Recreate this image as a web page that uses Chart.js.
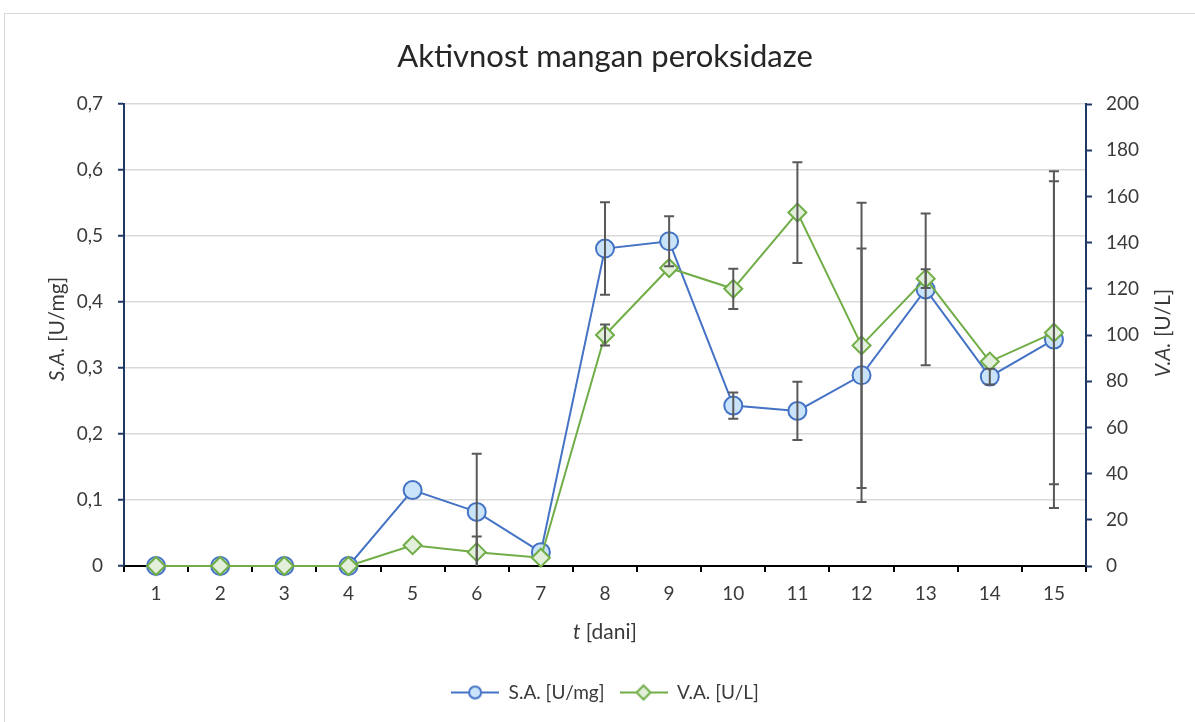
<!DOCTYPE html>
<html><head><meta charset="utf-8">
<script src="https://cdn.jsdelivr.net/npm/chart.js@4.4.0/dist/chart.umd.min.js"></script>
<style>
html,body{margin:0;padding:0;background:#fff;overflow:hidden;width:1195px;height:722px;}
#frame{position:absolute;left:4px;top:13px;width:1300px;height:800px;border:1px solid #d9d9d9;}
#wrap{position:absolute;left:0;top:0;width:1195px;height:722px;}
</style></head><body>
<div id="frame"></div>
<div id="wrap"><canvas id="c" width="1195" height="722"></canvas></div>
<script>
// ---- data ----
const days = ['1','2','3','4','5','6','7','8','9','10','11','12','13','14','15'];
const saValues = [0, 0, 0, 0, 0.115, 0.082, 0.021, 0.481, 0.492, 0.243, 0.235, 0.289, 0.419, 0.287, 0.343];
const saErrors = [0, 0, 0, 0, 0, 0.088, 0, 0.070, 0.038, 0.020, 0.044, 0.192, 0.115, 0.012, 0.255];
const vaValues = [0, 0, 0, 0, 9, 6, 3.6, 100, 129, 120, 153, 95.5, 124.4, 88.5, 101];
const vaErrors = [0, 0, 0, 0, 0, 6.8, 0, 4.5, 0, 8.7, 21.8, 61.7, 4.1, 0, 65.6];
const titleText = 'Aktivnost mangan peroksidaze';
const saLabel = 'S.A. [U/mg]';
const vaLabel = 'V.A. [U/L]';

const FONT = 'Lato';
const TEXT = '#3a3a3a';
const NAVY = '#203864';
const SA_LINE = '#4472c4', SA_FILL = '#c9e3fa';
const VA_LINE = '#70ad47', VA_FILL = '#e2efda';

function legendIcon(kind) {
  const c = document.createElement('canvas');
  c.width = 48; c.height = 20;
  const g = c.getContext('2d');
  g.strokeStyle = kind === 'sa' ? SA_LINE : VA_LINE;
  g.lineWidth = 2;
  g.beginPath(); g.moveTo(0, 10); g.lineTo(48, 10); g.stroke();
  g.fillStyle = kind === 'sa' ? SA_FILL : VA_FILL;
  g.beginPath();
  if (kind === 'sa') { g.arc(24, 10, 6, 0, Math.PI * 2); }
  else { g.moveTo(24, 3); g.lineTo(31, 10); g.lineTo(24, 17); g.lineTo(17, 10); g.closePath(); }
  g.fill(); g.stroke();
  return c;
}
const icons = [legendIcon('sa'), legendIcon('va')];

const errorBars = {
  id: 'errorBars',
  afterDatasetsDraw(chart) {
    const ctx = chart.ctx, area = chart.chartArea;
    ctx.save();
    ctx.beginPath(); ctx.rect(area.left, area.top - 2, area.right - area.left, area.bottom - area.top + 2); ctx.clip();
    ctx.strokeStyle = '#595959'; ctx.lineWidth = 2;
    chart.data.datasets.forEach((ds, i) => {
      const meta = chart.getDatasetMeta(i);
      const ys = chart.scales[ds.yAxisID];
      ds.errors.forEach((e, j) => {
        if (!e) return;
        const x = meta.data[j].x;
        const y1 = ys.getPixelForValue(ds.data[j] + e);
        const y2 = ys.getPixelForValue(ds.data[j] - e);
        ctx.beginPath();
        ctx.moveTo(x, y1); ctx.lineTo(x, y2);
        ctx.moveTo(x - 5, y1); ctx.lineTo(x + 5, y1);
        ctx.moveTo(x - 5, y2); ctx.lineTo(x + 5, y2);
        ctx.stroke();
      });
    });
    ctx.restore();
  }
};

function drawMixed(ctx, parts, cx, cy, rot) {
  ctx.save(); ctx.translate(cx, cy); ctx.rotate(rot);
  let total = 0;
  parts.forEach(p => { ctx.font = p.font; p.w = ctx.measureText(p.t).width; total += p.w; });
  let x = -total / 2;
  ctx.textBaseline = 'middle'; ctx.textAlign = 'left'; ctx.fillStyle = TEXT;
  parts.forEach(p => { ctx.font = p.font; ctx.fillText(p.t, x, 0); x += p.w; });
  ctx.restore();
}

const axisTitles = {
  id: 'axisTitles',
  afterDraw(chart) {
    const ctx = chart.ctx, a = chart.chartArea;
    const it = 'italic 21px ' + FONT, nm = '21px ' + FONT;
    const midY = (a.top + a.bottom) / 2;
    drawMixed(ctx, [{t: 'S.A.', font: it}, {t: ' [U/mg]', font: nm}], 57, midY - 6, -Math.PI / 2);
    drawMixed(ctx, [{t: 'V.A.', font: it}, {t: ' [U/L]', font: nm}], 1163, midY - 2, -Math.PI / 2);
    drawMixed(ctx, [{t: 't', font: it}, {t: ' [dani]', font: nm}], (a.left + a.right) / 2, 632, 0);
  }
};

new Chart(document.getElementById('c'), {
  type: 'line',
  data: {
    labels: days,
    datasets: [
      {
        label: saLabel, data: saValues, errors: saErrors, yAxisID: 'y', order: 1, clip: false,
        borderColor: SA_LINE, backgroundColor: SA_FILL, borderWidth: 2,
        pointStyle: 'circle', pointRadius: 9, pointBorderWidth: 2,
        pointBackgroundColor: SA_FILL, pointBorderColor: SA_LINE, tension: 0
      },
      {
        label: vaLabel, data: vaValues, errors: vaErrors, yAxisID: 'y1', order: 0, clip: false,
        borderColor: VA_LINE, backgroundColor: VA_FILL, borderWidth: 2,
        pointStyle: 'rectRot', pointRadius: 9, pointBorderWidth: 2,
        pointBackgroundColor: VA_FILL, pointBorderColor: VA_LINE, tension: 0
      }
    ]
  },
  options: {
    responsive: false,
    animation: false,
    layout: {padding: {top: 0, bottom: 10, left: 0, right: 0}},
    plugins: {
      tooltip: {enabled: false},
      title: {
        display: true, text: titleText, color: '#262626', fullSize: false,
        font: {family: FONT, size: 31, weight: 'normal', lineHeight: 1.2},
        padding: {top: 38, bottom: 28.8}
      },
      legend: {
        position: 'bottom', reverse: true, fullSize: false,
        labels: {
          usePointStyle: true, pointStyleWidth: 48, padding: 15,
          color: TEXT, font: {family: FONT, size: 19},
          generateLabels(chart) {
            const items = Chart.defaults.plugins.legend.labels.generateLabels(chart);
            items.forEach(it => { it.pointStyle = icons[it.datasetIndex]; });
            return items;
          }
        }
      }
    },
    scales: {
      x: {
        type: 'category', offset: true,
        grid: {offset: true, drawOnChartArea: false, drawTicks: true, tickLength: 6, color: '#000', lineWidth: 2},
        border: {display: true, color: '#000', width: 2},
        ticks: {color: TEXT, font: {family: FONT, size: 19}, padding: 10, maxRotation: 0, autoSkip: false},
        afterFit(s) { s.height = 102; }
      },
      y: {
        position: 'left', min: 0, max: 0.7,
        grid: {
          color: c => (c.tick && c.tick.value === 0) ? 'rgba(0,0,0,0)' : '#d9d9d9',
          lineWidth: 1.5, tickColor: NAVY, tickLength: 6, tickWidth: 2
        },
        border: {display: true, color: NAVY, width: 2},
        ticks: {
          stepSize: 0.1, color: TEXT, font: {family: FONT, size: 19}, padding: 15,
          callback: v => v === 0 ? '0' : Number(v).toFixed(1).replace('.', ',')
        },
        afterFit(s) { s.width = 124; }
      },
      y1: {
        position: 'right', min: 0, max: 200,
        grid: {drawOnChartArea: false, tickColor: NAVY, tickLength: 6, tickWidth: 2, color: NAVY},
        border: {display: true, color: NAVY, width: 2},
        ticks: {stepSize: 20, color: TEXT, font: {family: FONT, size: 19}, padding: 14},
        afterFit(s) { s.width = 109; }
      }
    }
  },
  plugins: [errorBars, axisTitles]
});
</script>
</body></html>
